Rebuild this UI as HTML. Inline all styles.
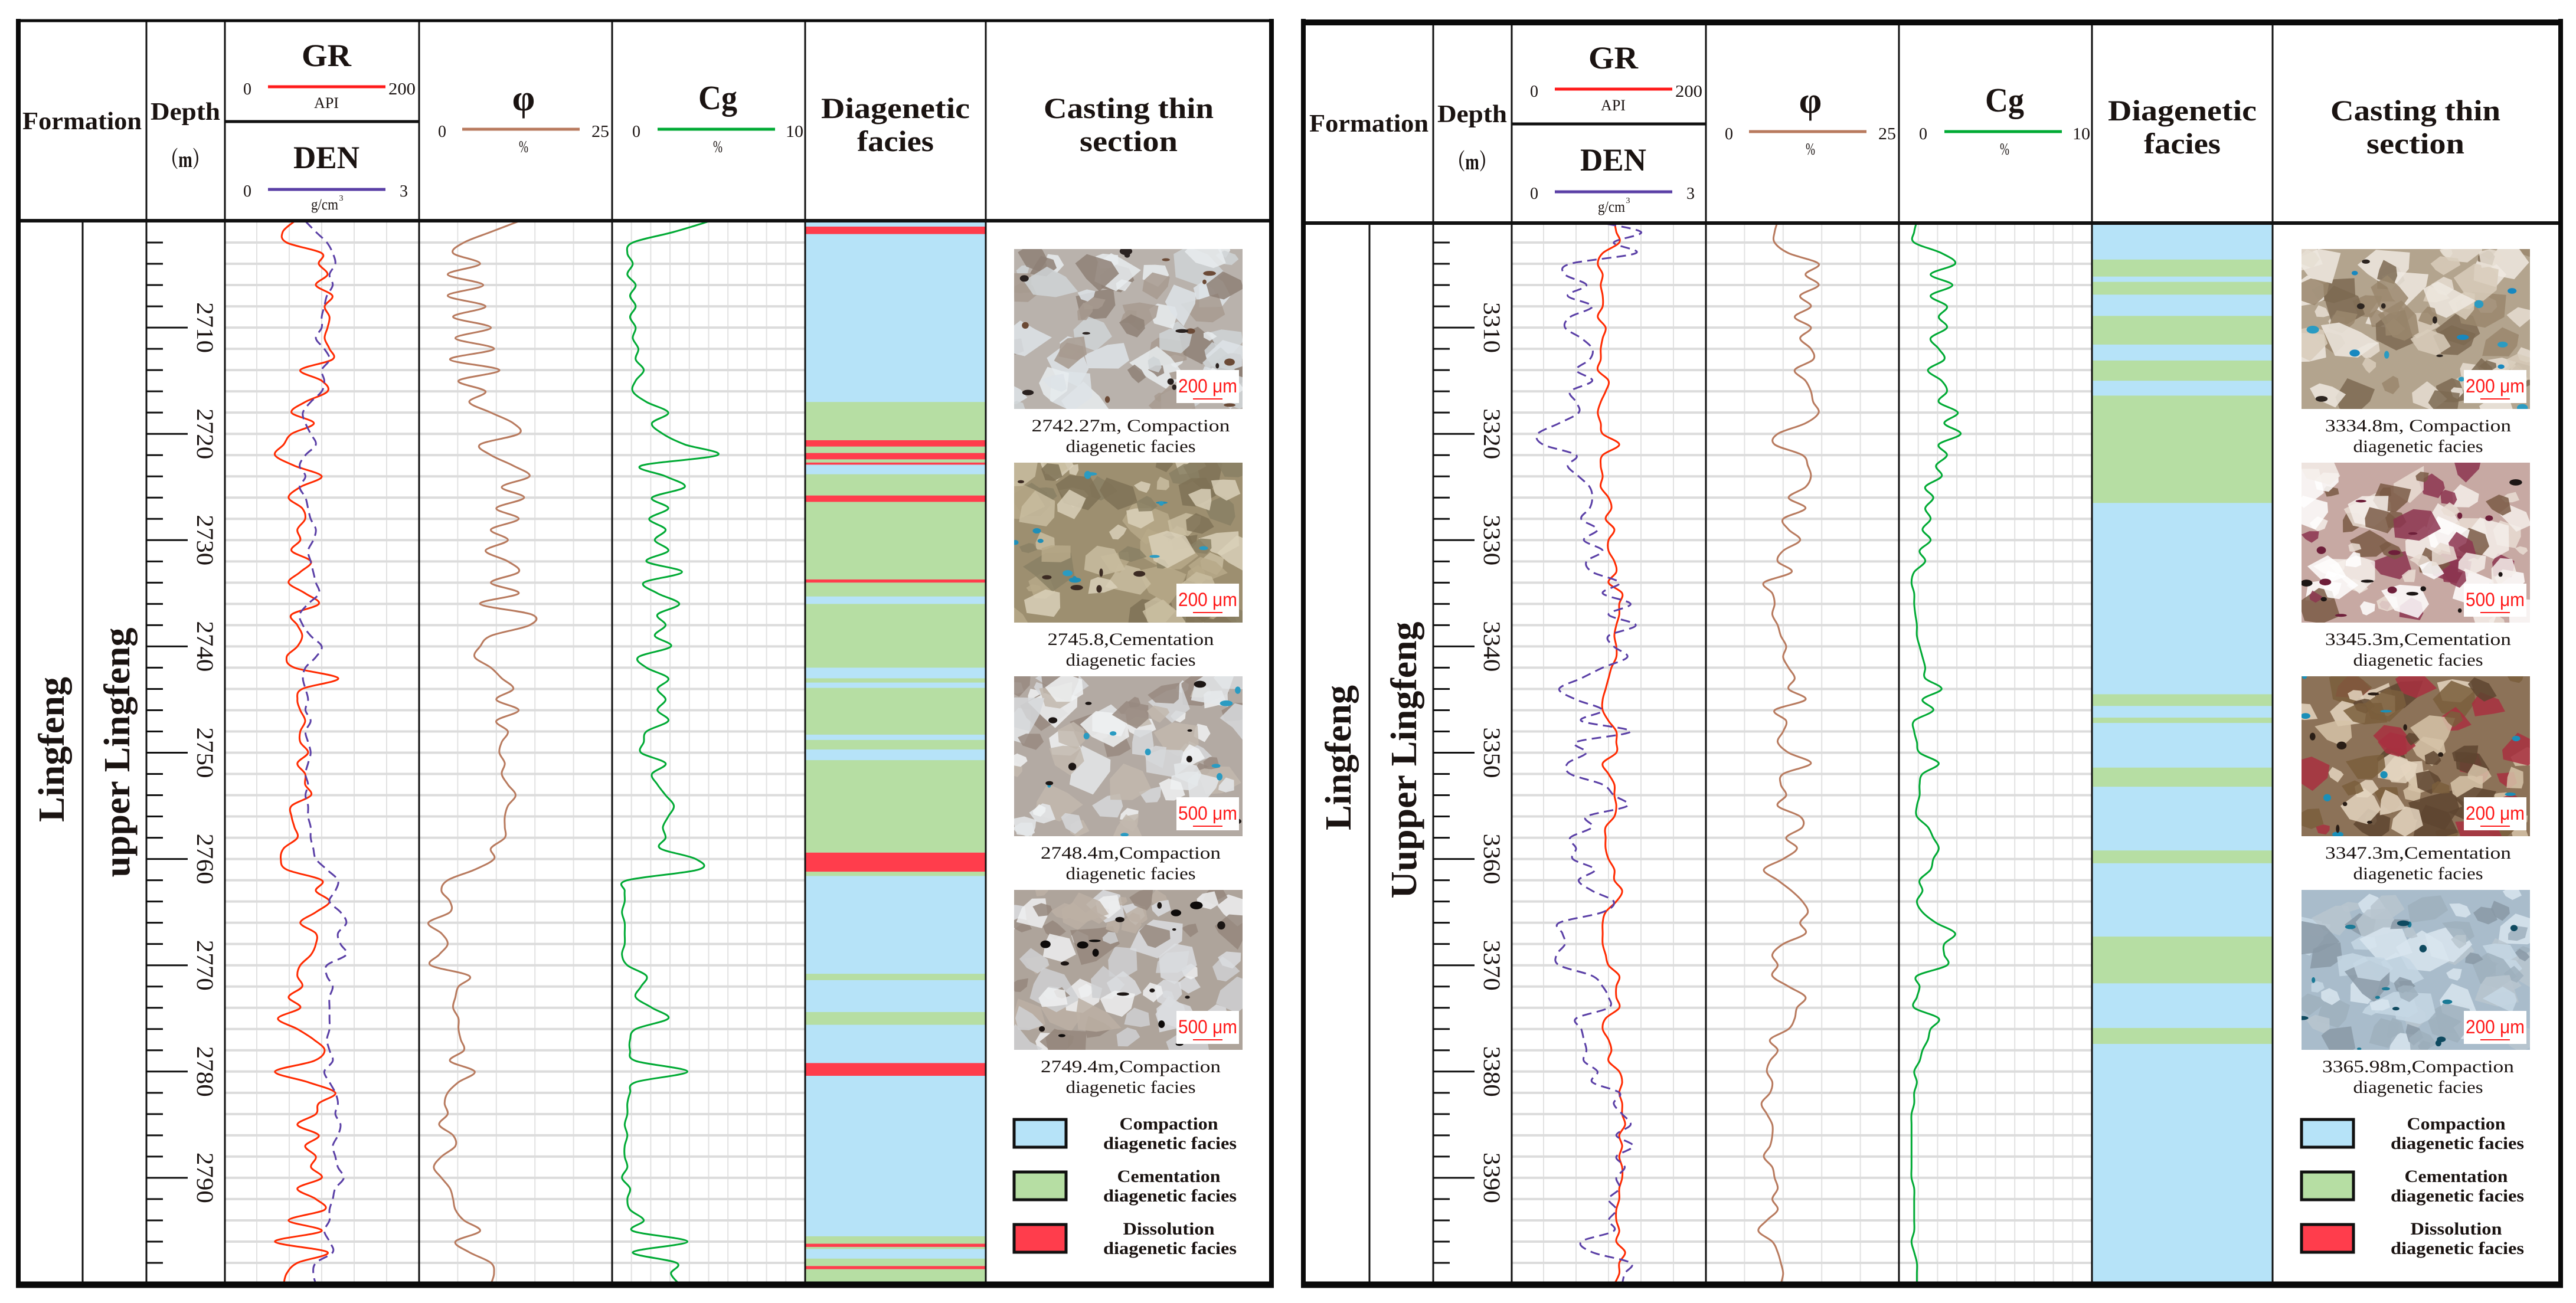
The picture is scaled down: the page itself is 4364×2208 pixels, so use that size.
<!DOCTYPE html>
<html><head><meta charset="utf-8">
<style>html,body{margin:0;padding:0;background:#fff;}svg{display:block}</style>
</head>
<body>
<svg id="chart" width="4364" height="2208" viewBox="0 0 4364 2208" xmlns="http://www.w3.org/2000/svg"></svg>
<script>
// ---------------- DATA ----------------
const leftTopDepth = 2700;
const rightTopDepth = 3300;
const leftDepthTicks = [2710,2720,2730,2740,2750,2760,2770,2780,2790];
const rightDepthTicks = [3310,3320,3330,3340,3350,3360,3370,3380,3390];

const GR_L = [72,60,64,100,97,106,94,111,103,108,106,103,108,111,78,100,106,83,69,92,69,61,52,72,100,78,66,80,83,75,78,69,89,78,66,83,97,69,75,80,75,64,72,117,80,75,78,83,78,78,86,
75,83,83,89,69,69,72,75,61,58,64,100,94,108,94,78,94,94,89,78,75,80,66,78,55,75,92,103,92,52,86,114,97,94,75,97,83,94,89,100,75,94,103,66,100,52,106,75,64,61];
const DEN_L = [1.25,1.41,1.58,1.67,1.71,1.62,1.67,1.58,1.54,1.50,1.50,1.41,1.54,1.62,1.50,1.54,1.50,1.33,1.21,1.25,1.33,1.41,1.25,1.16,1.25,1.16,1.25,1.29,1.33,1.41,1.37,1.29,1.33,1.37,1.41,1.46,1.29,1.16,1.21,1.33,1.50,1.41,1.25,1.21,1.25,1.29,1.25,1.33,1.25,1.29,1.33,
1.29,1.25,1.29,1.25,1.29,1.29,1.33,1.33,1.37,1.41,1.58,1.75,1.71,1.62,1.79,1.88,1.75,1.79,1.88,1.58,1.58,1.67,1.62,1.62,1.62,1.62,1.58,1.62,1.67,1.54,1.62,1.71,1.75,1.71,1.79,1.75,1.67,1.71,1.75,1.84,1.71,1.67,1.62,1.62,1.54,1.62,1.67,1.41,1.37,1.41];
const PHI_L = [12.9,9.3,5.8,4.4,7.9,3.7,8.3,3.7,8.6,4.4,9.3,4.7,9.7,4.0,10.4,5.1,8.6,6.5,9.3,12.2,12.9,7.9,9.3,12.2,14.3,10.7,13.6,10.0,12.9,9.3,11.5,8.6,11.5,12.9,9.3,12.9,7.9,14.6,14.3,9.3,7.9,7.2,9.3,10.7,12.2,10.0,12.9,10.0,11.5,10.7,10.4,
11.1,10.7,11.5,12.5,11.5,11.1,11.1,11.1,9.3,9.7,7.2,3.7,2.9,4.0,4.0,1.2,2.9,3.7,2.6,1.5,6.5,5.1,4.7,4.4,5.1,5.1,5.4,5.8,4.0,7.2,5.1,3.7,3.3,3.7,2.6,4.4,4.7,2.9,1.9,2.9,4.0,4.4,4.7,5.8,7.9,4.7,6.5,9.3,9.7,9.3];
const CG_L = [5.03,3.20,1.07,0.79,1.07,0.79,1.22,0.93,1.22,0.93,1.22,1.07,1.36,1.22,1.64,1.22,1.07,1.78,2.91,2.06,2.63,3.76,5.46,1.50,2.77,3.76,2.06,2.91,1.92,2.77,2.21,2.91,1.78,3.62,1.64,2.35,3.48,2.35,2.77,2.21,3.05,1.36,1.78,2.91,2.35,2.77,2.35,2.91,1.78,1.64,1.50,
2.77,2.06,2.35,2.77,3.20,2.91,2.63,2.77,2.49,4.33,4.47,0.79,0.65,0.65,0.51,0.65,0.65,0.65,0.51,0.79,1.78,1.50,1.22,2.06,2.91,1.22,0.93,0.93,1.22,3.90,1.22,0.93,0.79,0.79,0.65,0.79,0.65,0.65,0.79,0.51,0.93,0.79,0.93,1.64,1.07,3.90,1.07,3.34,3.05,3.48];

const GR_R = [106,108,111,94,89,94,92,94,94,89,97,94,92,92,89,100,97,92,89,92,94,111,94,92,94,92,100,103,97,106,100,100,106,108,100,114,111,111,108,106,108,108,103,100,97,94,94,100,108,108,108,
94,100,106,106,108,106,97,97,97,100,106,106,114,108,97,94,94,94,97,100,111,108,108,111,97,94,100,103,100,111,114,111,114,114,117,111,114,111,114,114,111,111,108,108,111,108,117,111,111,106];
const DEN_R = [1.25,2.00,1.58,1.92,0.91,0.83,1.16,0.87,1.25,0.91,0.83,1.08,1.25,1.21,1.00,1.25,0.91,1.00,1.04,0.74,0.41,0.49,1.00,0.87,1.04,1.21,1.25,1.21,1.08,1.33,1.12,1.41,1.16,1.25,1.67,1.41,1.84,1.50,1.92,1.50,1.58,1.79,1.41,1.08,0.74,1.00,1.41,1.08,1.84,1.00,1.16,
0.87,0.91,1.41,1.58,1.79,1.16,1.25,0.91,1.00,0.95,1.29,1.04,1.25,1.58,1.41,0.74,0.79,0.83,0.70,0.74,1.25,1.41,1.50,1.50,1.00,1.08,1.12,1.16,1.12,1.33,1.25,1.67,1.58,1.71,1.84,1.62,1.88,1.62,1.75,1.62,1.67,1.50,1.62,1.50,1.58,1.08,1.25,1.84,1.75,1.71];
const PHI_R = [9.3,8.9,8.9,10.7,14.6,12.9,14.6,12.2,13.6,11.5,13.6,12.2,13.6,13.9,11.5,12.9,13.6,13.9,14.6,12.9,9.3,8.9,12.5,13.2,13.6,12.9,10.7,12.9,10.0,10.7,12.2,10.0,9.3,11.1,7.5,8.6,8.9,8.6,9.3,9.7,10.4,10.0,10.7,11.5,10.7,12.9,8.9,10.4,10.0,9.3,10.7,
13.6,10.0,9.7,10.4,9.3,12.2,12.5,10.4,11.8,10.0,7.5,9.3,11.1,12.5,13.2,12.2,12.9,10.0,8.6,9.3,8.6,10.7,12.9,11.8,11.5,10.7,8.3,9.3,8.3,7.9,8.6,8.3,7.2,7.9,8.6,8.6,8.3,7.5,8.6,8.9,9.3,8.6,9.3,7.9,6.8,8.6,9.3,9.7,10.0,9.7];
const CG_R = [0.93,0.79,0.79,2.21,2.91,1.64,2.77,1.64,2.49,2.06,2.49,1.64,2.06,2.35,1.50,2.21,2.49,2.06,3.05,2.35,3.20,2.06,2.49,1.92,2.21,1.36,1.78,1.36,1.64,1.22,1.64,1.07,1.36,0.79,0.65,0.79,0.79,0.85,0.93,0.93,1.07,1.22,1.36,1.36,2.21,1.22,1.78,0.79,0.79,0.93,1.07,
2.06,1.22,1.07,1.07,0.93,0.93,1.50,1.78,2.06,1.78,1.64,1.07,1.22,0.93,1.22,1.92,2.91,2.35,2.35,2.49,0.93,1.07,0.93,0.79,2.06,1.64,1.50,1.22,1.07,0.79,0.93,0.79,0.79,0.65,0.65,0.65,0.65,0.65,0.65,0.65,0.79,0.79,0.79,0.79,0.79,0.65,0.79,0.93,0.93,0.93];

const faciesFromL = [2700.5,2717,2720.6,2721.2,2721.8,2722.4,2722.7,2723.8,2725.8,2726.4,2733.7,2734,2736,2743,2743.9,2748.8,2750.7,2759.4,2761.2,2770.8,2774.4,2779.2,2795.5,2796.2,2796.5,2797.6,2798.3,2798.6];
const faciesToL   = [2701.2,2720.6,2721.2,2721.8,2722.4,2722.7,2722.9,2725.8,2726.4,2733.7,2734,2735.3,2742,2743.4,2748.3,2749.7,2759.4,2761.2,2761.6,2771.4,2775.6,2780.4,2796.2,2796.5,2796.7,2798.3,2798.6,2800];
const faciesTypeL = ['D','M','D','M','D','M','D','M','D','M','D','M','M','M','M','M','M','D','M','M','M','D','M','D','M','M','D','M'];
const faciesFromR = [3303.6,3305.7,3308.9,3313.1,3316.4,3344.5,3346.7,3351.4,3359.2,3367.3,3375.9];
const faciesToR   = [3305.2,3306.9,3311.6,3315.0,3326.5,3345.6,3347.2,3353.2,3360.4,3371.7,3377.4];
const faciesTypeR = ['M','M','M','M','M','M','M','M','M','M','M'];

const captionsL = ['2742.27m, Compaction','2745.8,Cementation','2748.4m,Compaction','2749.4m,Compaction'];
const captionsR = ['3334.8m, Compaction','3345.3m,Cementation','3347.3m,Cementation','3365.98m,Compaction'];
const scalesL = ['200 μm','200 μm','500 μm','500 μm'];
const scalesR = ['200 μm','500 μm','200 μm','200 μm'];
const legendNames = ['Compaction','Cementation','Dissolution'];

// ---------------- DRAWING ----------------
const NS = 'http://www.w3.org/2000/svg';
const svg = document.getElementById('chart');
const SERIF = '"Liberation Serif", "DejaVu Serif", serif';
const SANS = '"Liberation Sans", sans-serif';
const DATA_TOP = 375, PXM = 18.01, DATA_BOTTOM = 2172;
const COL_BLUE = '#b6e3f8', COL_GREEN = '#b6dea3', COL_RED = '#ff3d4c';

function mk(parent, tag, attrs, text) {
  const e = document.createElementNS(NS, tag);
  for (const k in attrs) e.setAttribute(k, attrs[k]);
  if (text != null) e.textContent = text;
  parent.appendChild(e);
  return e;
}
function yOf(d, top) { return DATA_TOP + (d - top) * PXM; }
function xScale(v, x0, w, vmax) { return x0 + v / vmax * w; }

function curvePath(vals, top, x0, w, vmax) {
  const p = vals.map((v, i) => [xScale(v, x0, w, vmax), yOf(top + i, top)]);
  let d = 'M' + p[0][0].toFixed(1) + ',' + p[0][1].toFixed(1);
  for (let i = 0; i < p.length - 1; i++) {
    const p0 = p[Math.max(0, i - 1)], p1 = p[i], p2 = p[i + 1], p3 = p[Math.min(p.length - 1, i + 2)];
    const c1x = p1[0] + (p2[0] - p0[0]) / 6, c1y = p1[1] + (p2[1] - p0[1]) / 6;
    const c2x = p2[0] - (p3[0] - p1[0]) / 6, c2y = p2[1] - (p3[1] - p1[1]) / 6;
    d += 'C' + c1x.toFixed(1) + ',' + c1y.toFixed(1) + ' ' + c2x.toFixed(1) + ',' + c2y.toFixed(1) + ' ' + p2[0].toFixed(1) + ',' + p2[1].toFixed(1);
  }
  return d;
}

function txt(parent, x, y, s, size, opts) {
  opts = opts || {};
  const a = {x: x, y: y, 'font-family': opts.family || SERIF, 'font-size': size, 'text-anchor': opts.anchor || 'middle', fill: opts.fill || '#1a1311'};
  if (opts.bold) a['font-weight'] = 'bold';
  if (opts.len) { a.textLength = opts.len; a.lengthAdjust = 'spacingAndGlyphs'; }
  if (opts.transform) a.transform = opts.transform;
  return mk(parent, 'text', a, s);
}

let seedState = 1;
function rnd() { seedState = (seedState * 16807) % 2147483647; return seedState / 2147483647; }

function thinSection(parent, x, y, w, h, pal, seed) {
  seedState = seed;
  const g = mk(parent, 'g', {});
  const cid = 'clipimg' + seed;
  const cp = mk(g, 'clipPath', {id: cid});
  mk(cp, 'rect', {x: x, y: y, width: w, height: h});
  const inner = mk(g, 'g', {'clip-path': 'url(#' + cid + ')'});
  mk(inner, 'rect', {x: x, y: y, width: w, height: h, fill: pal.base});
  for (let i = 0; i < 70; i++) {
    const cx = x + rnd() * w, cy = y + rnd() * h, r = 12 + rnd() * 34;
    let pts = '';
    for (let k = 0; k < 6; k++) {
      const a = k / 6 * Math.PI * 2 + rnd() * 0.6, rr = r * (0.6 + rnd() * 0.6);
      pts += (cx + Math.cos(a) * rr).toFixed(1) + ',' + (cy + Math.sin(a) * rr * 0.8).toFixed(1) + ' ';
    }
    mk(inner, 'polygon', {points: pts, fill: pal.grains[i % pal.grains.length], opacity: 0.85});
  }
  for (let i = 0; i < 18; i++) {
    mk(inner, 'ellipse', {cx: x + rnd() * w, cy: y + rnd() * h, rx: 3 + rnd() * 8, ry: 2 + rnd() * 5, fill: pal.spots[i % pal.spots.length]});
  }
  return g;
}

const palettes = [
  {base: '#b9b2ac', grains: ['#dde3e8', '#e8ecef', '#8e8076', '#a79a8f', '#cfd3d6'], spots: ['#2a2220', '#6b4a36']},
  {base: '#9d8f70', grains: ['#b7a988', '#c9bda0', '#7f7256', '#d9d0b8', '#8a8064'], spots: ['#2a9bc2', '#1f8fb8', '#3b2a22']},
  {base: '#b3aaa3', grains: ['#e4e7ea', '#f0f2f3', '#988a80', '#c2b8ae', '#d6d8da'], spots: ['#1c1614', '#2a9bc2']},
  {base: '#aea49b', grains: ['#dadde0', '#eef0f1', '#95877c', '#bcb0a5', '#cfd0d2'], spots: ['#0e0b0a', '#1c1614']},
  {base: '#b3a48e', grains: ['#e6ded2', '#d8ccbb', '#7d6a52', '#9a876d', '#efe9e0'], spots: ['#1788c0', '#2a9bc2', '#2d2520']},
  {base: '#c7a9a3', grains: ['#ffffff', '#f4eeea', '#8c3550', '#7a5a45', '#e9ddd4'], spots: ['#6e1f3a', '#1c1614']},
  {base: '#8c7258', grains: ['#e4d5c0', '#d6c3a8', '#5e4530', '#7a5e3c', '#a83040'], spots: ['#1a8fb8', '#2a1e16']},
  {base: '#a9bccb', grains: ['#c6d7e4', '#d8e5ee', '#8a99a6', '#b9c6cf', '#9fb0bd'], spots: ['#1a7a96', '#0f4a60']}
];

function drawPanel(cfg) {
  const ox = cfg.ox, dy = cfg.dy, top = cfg.top;
  const P = mk(svg, 'g', {});
  
  

  const clipId = 'clip' + ox;
  const cp = mk(P, 'clipPath', {id: clipId});
  mk(cp, 'rect', {x: 380 + ox, y: DATA_TOP + dy, width: 1290, height: DATA_BOTTOM - DATA_TOP - dy});

  const fg = mk(P, 'g', {'clip-path': 'url(#' + clipId + ')'});
  
  
  const bg = mk(fg, 'rect', {x: 1364 + ox, y: DATA_TOP, width: 306, height: DATA_BOTTOM - DATA_TOP, fill: COL_BLUE});
  
  
  for (let i = 0; i < cfg.fFrom.length; i++) {
    const y1 = yOf(cfg.fFrom[i], top), y2 = yOf(cfg.fTo[i], top);
    const band = mk(fg, 'rect', {x: 1364 + ox, y: y1, width: 306, height: Math.max(1, y2 - y1), fill: cfg.fType[i] === 'D' ? COL_RED : COL_GREEN});
    
    
  }

  const grid = mk(P, 'g', {});
  
  
  const tracks = [[380, 330, 6], [710, 327, 5], [1037, 327, 10]];
  tracks.forEach(t => {
    for (let k = 1; k < t[2]; k++) {
      const gx = t[0] + t[1] * k / t[2] + ox;
      const vl = mk(grid, 'line', {x1: gx, x2: gx, y1: DATA_TOP + dy, y2: DATA_BOTTOM, stroke: '#e2e2e2', 'stroke-width': 2});
      
      
    }
  });
  for (let d = top + 2; d < top + 100; d += 2) {
    const gy = yOf(d, top);
    const hl = mk(grid, 'line', {x1: 381 + ox, x2: 1364 + ox, y1: gy, y2: gy, stroke: '#dcdcdc', 'stroke-width': 4});
    
    
  }

  const cg = mk(P, 'g', {'clip-path': 'url(#' + clipId + ')', fill: 'none', 'stroke-linejoin': 'round'});
  const c1 = mk(cg, 'path', {d: curvePath(cfg.gr, top, 380 + ox, 330, 200), stroke: '#ff2a00', 'stroke-width': 3});
  
  
  const c2 = mk(cg, 'path', {d: curvePath(cfg.den, top, 380 + ox, 330, 3), stroke: '#5a3fa6', 'stroke-width': 3, 'stroke-dasharray': '16 9'});
  
  
  const c3 = mk(cg, 'path', {d: curvePath(cfg.phi, top, 710 + ox, 327, 25), stroke: '#b87a5e', 'stroke-width': 3});
  
  
  const c4 = mk(cg, 'path', {d: curvePath(cfg.cg, top, 1037 + ox, 327, 10), stroke: '#00aa34', 'stroke-width': 3});
  
  

  const tg = mk(P, 'g', {stroke: '#111', 'stroke-width': 3});
  
  
  for (let d = top + 2; d < top + 100; d += 2) {
    const ty = yOf(d, top);
    const major = cfg.ticks.indexOf(d) >= 0;
    const tk = mk(tg, 'line', {x1: 248 + ox, x2: (major ? 318 : 276) + ox, y1: ty, y2: ty});
    
    
  }
  cfg.ticks.forEach(d => {
    const ty = yOf(d, top);
    const lb = txt(P, 0, 0, String(d), 40, {len: 86, transform: 'translate(' + (334 + ox) + ',' + ty + ') rotate(90)'});
    
    
  });

  const f1 = txt(P, 0, 0, 'Lingfeng', 62, {bold: true, len: 246, transform: 'translate(' + (108 + ox) + ',' + cfg.ling + ') rotate(-90)'});
  
  
  const f2 = txt(P, 0, 0, cfg.member, 62, {bold: true, len: cfg.memberLen, transform: 'translate(' + (219 + ox) + ',' + cfg.memberY + ') rotate(-90)'});
  
  

  const lg = mk(P, 'g', {stroke: '#111'});
  
  
  [248, 381, 710, 1037, 1364, 1670].forEach(x => {
    const l = mk(lg, 'line', {x1: x + ox, x2: x + ox, y1: 35, y2: 2175, 'stroke-width': 3});
    
    
  });
  const fl = mk(lg, 'line', {x1: 140 + ox, x2: 140 + ox, y1: 374 + dy, y2: 2175, 'stroke-width': 3});
  
  
  const hb = mk(lg, 'line', {x1: 30 + ox, x2: cfg.right, y1: 374 + dy, y2: 374 + dy, 'stroke-width': 6});
  
  
  const gd = mk(lg, 'line', {x1: 381 + ox, x2: 710 + ox, y1: 206 + dy, y2: 206 + dy, 'stroke-width': 5});
  
  

  const H = mk(P, 'g', {});
  
  
  let t;
  t = txt(H, 139 + ox, 219 + dy, 'Formation', 42, {bold: true, len: 202});
   
  t = txt(H, 314 + ox, 203 + dy, 'Depth', 42, {bold: true, len: 118});
   
  t = txt(H, 314 + ox, 283 + dy, '（m）', 38, {bold: true, len: 80, family: SERIF + ', "Noto Serif CJK SC"'});
   
  t = txt(H, 553 + ox, 112 + dy, 'GR', 54, {bold: true, len: 84});
   
  t = txt(H, 419 + ox, 160 + dy, '0', 28, {len: 14});
   
  t = mk(H, 'line', {x1: 454 + ox, x2: 653 + ox, y1: 147 + dy, y2: 147 + dy, stroke: '#ff1a1a', 'stroke-width': 5});
   
  t = txt(H, 681 + ox, 160 + dy, '200', 28, {len: 46});
   
  t = txt(H, 553 + ox, 183 + dy, 'API', 26, {len: 42});
   
  t = txt(H, 553 + ox, 285 + dy, 'DEN', 54, {bold: true, len: 112});
   
  t = txt(H, 419 + ox, 333 + dy, '0', 28, {len: 14});
   
  t = mk(H, 'line', {x1: 454 + ox, x2: 653 + ox, y1: 321 + dy, y2: 321 + dy, stroke: '#5a3fa6', 'stroke-width': 5});
   
  t = txt(H, 684 + ox, 333 + dy, '3', 28, {len: 14});
   
  t = txt(H, 550 + ox, 355 + dy, 'g/cm', 26, {len: 46});
   
  t = txt(H, 578 + ox, 340 + dy, '3', 14, {});
   

  t = txt(H, 887 + ox, 187 + dy, 'φ', 62, {bold: true});
   
  t = txt(H, 749 + ox, 232 + dy, '0', 28, {len: 14});
   
  t = mk(H, 'line', {x1: 783 + ox, x2: 982 + ox, y1: 219 + dy, y2: 219 + dy, stroke: '#b87a5e', 'stroke-width': 5});
   
  t = txt(H, 1017 + ox, 232 + dy, '25', 28, {len: 30});
   
  t = txt(H, 887 + ox, 258 + dy, '%', 28, {len: 16});
   

  t = txt(H, 1216 + ox, 185 + dy, 'Cg', 58, {bold: true, len: 66});
   
  t = txt(H, 1078 + ox, 232 + dy, '0', 28, {len: 14});
   
  t = mk(H, 'line', {x1: 1114 + ox, x2: 1313 + ox, y1: 219 + dy, y2: 219 + dy, stroke: '#00aa34', 'stroke-width': 5});
   
  t = txt(H, 1346 + ox, 232 + dy, '10', 28, {len: 30});
   
  t = txt(H, 1216 + ox, 258 + dy, '%', 28, {len: 16});
   

  t = txt(H, 1517 + ox, 200 + dy, 'Diagenetic', 50, {bold: true, len: 252});
   
  t = txt(H, 1517 + ox, 256 + dy, 'facies', 50, {bold: true, len: 130});
   
  t = txt(H, 1912 + ox, 200 + dy, 'Casting thin', 50, {bold: true, len: 288});
   
  t = txt(H, 1912 + ox, 256 + dy, 'section', 50, {bold: true, len: 166});
   

  const imgX = cfg.imgX, imgW = 387, imgH = 271;
  const imgYs = [422, 784, 1146, 1508];
  for (let i = 0; i < 4; i++) {
    const iy = imgYs[i];
    const im = thinSection(P, imgX, iy, imgW, imgH, palettes[cfg.palOff + i], 7 + i * 31 + cfg.palOff * 101);
    
    
    const sb = mk(P, 'rect', {x: imgX + imgW - 112, y: iy + imgH - 66, width: 106, height: 56, fill: '#fff'});
    
    
    const st = txt(P, imgX + imgW - 59, iy + imgH - 28, cfg.scales[i], 32, {family: SANS, fill: '#ff1a1a', len: 100});
    
    
    const sl = mk(P, 'line', {x1: imgX + imgW - 84, x2: imgX + imgW - 34, y1: iy + imgH - 17, y2: iy + imgH - 17, stroke: '#ff1a1a', 'stroke-width': 2});
    
    
    const cx = imgX + imgW / 2 + 4;
    const cap1 = txt(P, cx, iy + imgH + 38, cfg.captions[i], 30, {len: cfg.capLens[i]});
    
    
    const cap2 = txt(P, cx, iy + imgH + 73, 'diagenetic facies', 30, {len: 220});
    
    
  }

  const legCols = [COL_BLUE, COL_GREEN, COL_RED];
  const legYs = [1897, 1986, 2075];
  for (let i = 0; i < 3; i++) {
    const sw = mk(P, 'rect', {x: imgX, y: legYs[i], width: 88, height: 47, fill: legCols[i], stroke: '#111', 'stroke-width': 5});
    
    
    const l1 = txt(P, imgX + 262, legYs[i] + 17, legendNames[i], 30, {bold: true, len: [167, 175, 155][i]});
    
    
    const l2 = txt(P, imgX + 264, legYs[i] + 50, 'diagenetic facies', 30, {bold: true, len: 226});
    
    
  }

  const B = mk(P, 'g', {stroke: '#0a0a0a'});
  
  
  mk(B, 'line', {x1: cfg.left - 4, x2: cfg.right + 4, y1: cfg.topY, y2: cfg.topY, 'stroke-width': cfg.topW});
  mk(B, 'line', {x1: cfg.left - 4, x2: cfg.right + 4, y1: 2177, y2: 2177, 'stroke-width': 11});
  mk(B, 'line', {x1: cfg.left, x2: cfg.left, y1: 32, y2: 2182, 'stroke-width': 8});
  mk(B, 'line', {x1: cfg.right, x2: cfg.right, y1: 32, y2: 2182, 'stroke-width': 8});
}

drawPanel({name: 'left-well-panel', ox: 0, dy: 0, top: leftTopDepth, gr: GR_L, den: DEN_L, phi: PHI_L, cg: CG_L,
  fFrom: faciesFromL, fTo: faciesToL, fType: faciesTypeL, ticks: leftDepthTicks,
  ling: 1270, member: 'upper Lingfeng', memberLen: 423, memberY: 1275,
  imgX: 1718, palOff: 0, scales: scalesL, captions: captionsL, capLens: [336, 282, 305, 305],
  left: 31, right: 2154, topY: 35, topW: 5});
drawPanel({name: 'right-well-panel', ox: 2180, dy: 4, top: rightTopDepth, gr: GR_R, den: DEN_R, phi: PHI_R, cg: CG_R,
  fFrom: faciesFromR, fTo: faciesToR, fType: faciesTypeR, ticks: rightDepthTicks,
  ling: 1284, member: 'Uupper Lingfeng', memberLen: 469, memberY: 1288,
  imgX: 3899, palOff: 4, scales: scalesR, captions: captionsR, capLens: [315, 315, 315, 325],
  left: 2208, right: 4338, topY: 38, topW: 10});
</script>
</body></html>
